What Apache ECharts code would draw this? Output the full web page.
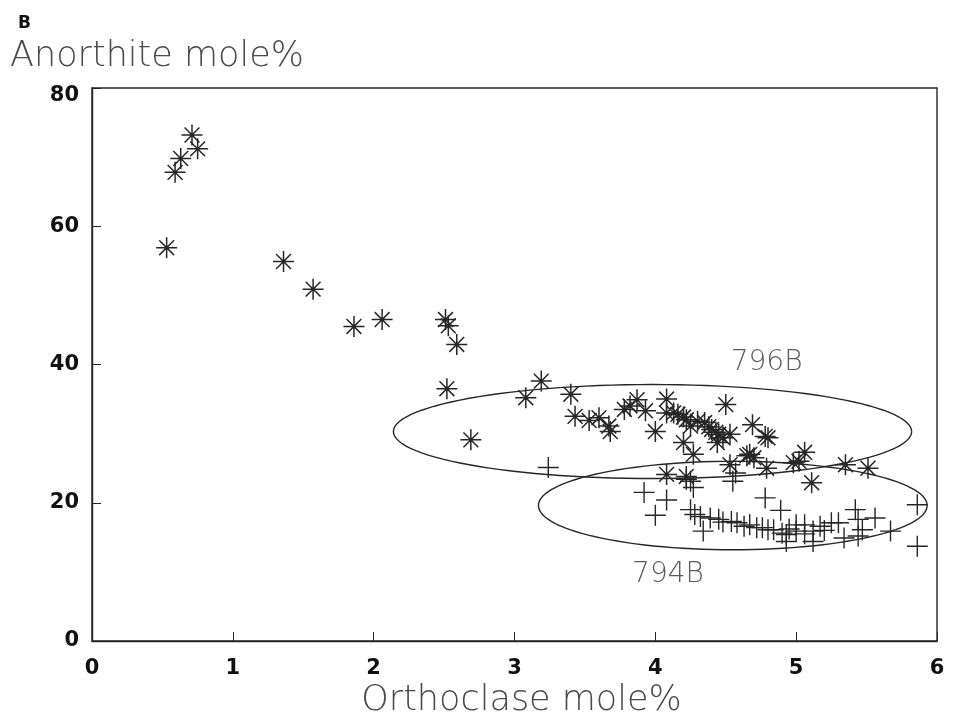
<!DOCTYPE html>
<html>
<head>
<meta charset="utf-8">
<script src="https://cdn.jsdelivr.net/npm/echarts@6/dist/echarts.min.js"></script>
<style>html,body{margin:0;padding:0;background:#fff;}#c{width:953px;height:728px;}</style>
</head>
<body>
<div id="c"></div>
<script>
// Orthoclase mole% (x), Anorthite mole% (y)
var starPoints = [
  [0.53,56.9],[0.59,67.8],[0.63,69.8],[0.71,73.2],[0.75,71.2],
  [1.36,54.9],[1.57,50.9],[1.86,45.5],[2.06,46.5],
  [2.51,46.5],[2.53,45.6],[2.59,42.9],[2.52,36.5],[2.69,29.1],
  [3.08,35.2],[3.19,37.6],[3.40,35.7],[3.43,32.5],[3.53,31.9],[3.60,32.3],[3.67,31.1],[3.68,30.3],
  [3.78,33.5],[3.82,34.0],[3.87,34.9],[3.93,33.3],[4.00,30.3],[4.08,35.0],[4.08,33.0],
  [4.13,33.0],[4.16,32.8],[4.20,32.4],[4.22,32.0],[4.25,31.1],[4.30,31.8],[4.35,31.6],[4.38,31.0],
  [4.40,30.6],[4.43,30.2],[4.45,29.9],[4.48,29.4],[4.53,29.9],[4.44,28.7],[4.20,28.7],[4.27,27.0],
  [4.50,34.2],[4.69,31.3],[4.78,29.6],[4.80,29.4],[4.67,27.0],[4.70,26.5],[4.65,26.8],
  [4.53,25.5],[4.79,25.0],[4.98,25.8],[4.08,24.1],[4.22,23.8],
  [5.06,27.3],[5.02,26.0],[5.35,25.5],[5.51,25.0],[5.11,22.9]
];
var plusPoints = [
  [3.24,25.1],[3.92,21.5],[4.08,20.4],[4.00,18.2],[4.22,23.4],[4.25,23.1],[4.27,22.2],[4.55,23.1],[4.57,24.3],
  [4.25,19.0],[4.28,18.3],[4.32,18.0],[4.34,15.9],[4.39,17.8],[4.45,17.6],[4.48,17.2],[4.54,17.3],
  [4.58,17.1],[4.63,16.6],[4.67,16.8],[4.72,16.4],[4.76,16.4],[4.80,16.1],[4.84,16.1],[4.90,15.6],
  [4.93,15.4],[4.93,14.4],[5.00,15.9],[4.95,16.2],[4.78,20.7],[4.89,18.9],
  [5.00,16.8],[5.06,16.8],[5.12,15.9],[5.12,14.4],[5.17,16.6],[5.25,17.1],[5.30,17.1],[5.34,14.9],
  [5.42,19.0],[5.44,17.6],[5.44,15.2],[5.47,16.1],[5.56,17.8],[5.67,15.9],[5.86,19.7],[5.86,13.7],
  [5.06,15.5],[5.20,16.0]
];
// Ellipses: [centerX, centerY, radiusX, radiusY] in data units
var ellipse796B = [3.98, 30.3, 1.84, 6.8];
var ellipse794B = [4.55, 19.6, 1.38, 6.4];
// Group labels: [x, y, text]
var groupLabels = [[4.79, 40.2, '796B'], [4.09, 9.6, '794B']];
var xTicks = [0, 1, 2, 3, 4, 5, 6];
var yTicks = [0, 20, 40, 60, 80];

var INK = '#262626';
var chart = echarts.init(document.getElementById('c'), null, {renderer: 'canvas'});

function ellipseRender(params, api) {
  var cx = api.value(0), cy = api.value(1), rx = api.value(2), ry = api.value(3);
  var pts = [];
  for (var i = 0; i <= 120; i++) {
    var t = i / 120 * Math.PI * 2;
    pts.push(api.coord([cx + rx * Math.cos(t), cy + ry * Math.sin(t)]));
  }
  return {type: 'polyline', shape: {points: pts}, style: {stroke: INK, fill: null, lineWidth: 1.4}, silent: true};
}

var axisLabelStyle = {color: '#111', fontFamily: 'DejaVu Sans', fontWeight: 'bold', fontSize: 21};
var nameStyle = {color: '#4a4a4a', fontFamily: 'DejaVu Sans', fontWeight: 200};

chart.setOption({
  animation: false,
  backgroundColor: '#fff',
  title: {text: 'B', left: 13, top: 10, textStyle: {fontFamily: 'DejaVu Sans', fontWeight: 'bold', fontSize: 17, color: '#111'}},
  grid: {left: 92, right: 16, top: 88, bottom: 87, show: true, borderColor: INK, borderWidth: 1.4},
  xAxis: {
    type: 'value', min: xTicks[0], max: xTicks[xTicks.length - 1], interval: 1,
    name: 'Orthoclase mole%', nameLocation: 'middle', nameGap: 38,
    nameTextStyle: Object.assign({padding: [0, 0, 0, 14], fontSize: 35}, nameStyle),
    axisLine: {show: true, lineStyle: {color: INK, width: 1.4}},
    axisTick: {show: true, inside: true, length: 9, lineStyle: {color: INK}},
    axisLabel: Object.assign({margin: 17}, axisLabelStyle),
    splitLine: {show: false}
  },
  yAxis: {
    type: 'value', min: yTicks[0], max: yTicks[yTicks.length - 1], interval: 20,
    name: 'Anorthite mole%', nameLocation: 'end', nameGap: 14,
    nameTextStyle: Object.assign({align: 'left', padding: [0, 0, 0, -82], fontSize: 35}, nameStyle),
    axisLine: {show: true, lineStyle: {color: INK, width: 1.4}},
    axisTick: {show: true, inside: true, length: 9, lineStyle: {color: INK}},
    axisLabel: Object.assign({
      margin: 13,
      formatter: function (v) { return v === yTicks[yTicks.length - 1] ? '{low|' + v + '}' : String(v); },
      rich: {low: Object.assign({padding: [16, 0, 0, 0]}, axisLabelStyle)}
    }, axisLabelStyle),
    splitLine: {show: false}
  },
  series: [
    {
      type: 'custom', name: 'ellipses', renderItem: ellipseRender,
      data: [ellipse796B, ellipse794B], encode: {x: 0, y: 1}, silent: true, z: 1
    },
    {
      type: 'scatter', name: 'stars', data: starPoints,
      symbol: 'path://M0,-10L0,10M-10,0L10,0M-7.07,-7.07L7.07,7.07M-7.07,7.07L7.07,-7.07',
      symbolSize: 21,
      itemStyle: {color: 'rgba(0,0,0,0)', borderColor: INK, borderWidth: 1.5, opacity: 1},
      z: 3
    },
    {
      type: 'scatter', name: 'plus', data: plusPoints,
      symbol: 'path://M0,-10L0,10M-10,0L10,0',
      symbolSize: 21,
      itemStyle: {color: 'rgba(0,0,0,0)', borderColor: INK, borderWidth: 1.4, opacity: 1},
      z: 3
    },
    {
      type: 'scatter', name: 'labels', symbolSize: 0, silent: true,
      data: groupLabels.map(function (d) { return {value: [d[0], d[1]], name: d[2]}; }),
      label: {show: true, position: 'inside', formatter: '{b}', color: '#333', fontFamily: 'DejaVu Sans', fontWeight: 200, fontSize: 28},
      z: 4
    }
  ]
});
</script>
</body>
</html>
